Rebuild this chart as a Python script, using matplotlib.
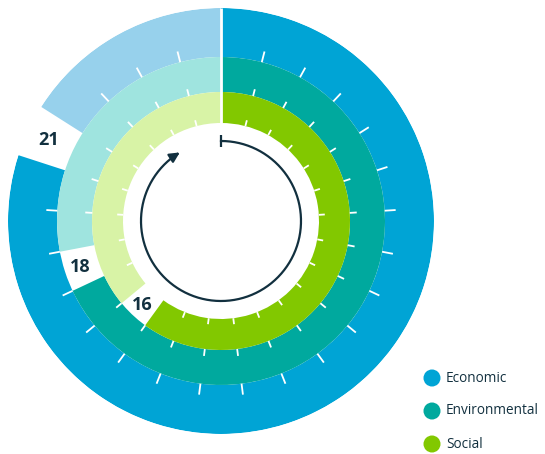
import numpy as np
import matplotlib
matplotlib.use("Agg")
import matplotlib.pyplot as plt

# ---- data ----
categories = ["Economic", "Environmental", "Social"]
values = [21, 18, 16]          # number shown in the gap of each ring
n_segments = 25
dark_colors = ["#00A4D5", "#00A99E", "#82C800"]
light_colors = ["#97D1EC", "#9FE4DF", "#D8F3A6"]
ring_radii = [(164, 213), (129, 164), (98, 129)]   # in pixel units
tick_len = [11, 7, 6]
text_color = "#12303F"

W, H = 545, 454
cx, cy, R = 221, 221, 213

fig = plt.figure(figsize=(W / 100, H / 100), dpi=100)
ax = fig.add_axes([(cx - R) / W, (H - cy - R) / H, 2 * R / W, 2 * R / H], projection="polar")
ax.set_theta_zero_location("N")
ax.set_theta_direction(-1)
ax.set_ylim(0, R)
ax.set_axis_off()

seg = 2 * np.pi / n_segments
for v, (rin, rout), dc, lc, tl in zip(values, ring_radii, dark_colors, light_colors, tick_len):
    # dark part: segments 0 .. v-2
    ax.bar(0, rout - rin, width=(v - 1) * seg, bottom=rin, align="edge",
           color=dc, edgecolor="none", linewidth=0)
    # light part: segments v .. end
    ax.bar(v * seg, rout - rin, width=(n_segments - v) * seg, bottom=rin, align="edge",
           color=lc, edgecolor="none", linewidth=0)
    # ticks
    for k in range(1, n_segments):
        if k in (v - 1, v):
            continue
        th = k * seg
        ax.plot([th, th], [rin, rin + tl], color="white", lw=1.3, solid_capstyle="butt")
    # label in gap
    thl = (v - 0.5) * seg
    ax.text(thl, (rin + rout) / 2 + 2, str(v), ha="center", va="center",
            fontsize=13, fontweight="bold", color=text_color, family="Open Sans")

# top separator line
ax.plot([0, 0], [ring_radii[-1][0], R], color="white", lw=2, solid_capstyle="butt")

# inner arrow
r_arrow = 80
th_end = np.deg2rad(329)
th = np.linspace(0, th_end - 0.04, 300)
ax.plot(th, np.full_like(th, r_arrow), color=text_color, lw=1.6)
ax.annotate("", xy=(th_end, r_arrow), xytext=(th_end - 0.06, r_arrow),
            arrowprops=dict(arrowstyle="-|>,head_length=0.6,head_width=0.3",
                            color=text_color, lw=1.6, shrinkA=0, shrinkB=0))
ax.plot([0, 0], [r_arrow - 6, r_arrow + 6], color=text_color, lw=1.6, solid_capstyle="butt")

# legend in pixel coordinates
lax = fig.add_axes([0, 0, 1, 1])
lax.set_xlim(0, W)
lax.set_ylim(H, 0)
lax.set_axis_off()
leg_y = [378, 411, 444]
for name, c, y in zip(categories, dark_colors, leg_y):
    lax.scatter([432], [y], s=150, color=c, edgecolors="none")
    lax.text(446, y, name, ha="left", va="center", fontsize=9.8,
             color=text_color, family="Open Sans")

fig.savefig("out.png", dpi=100)
